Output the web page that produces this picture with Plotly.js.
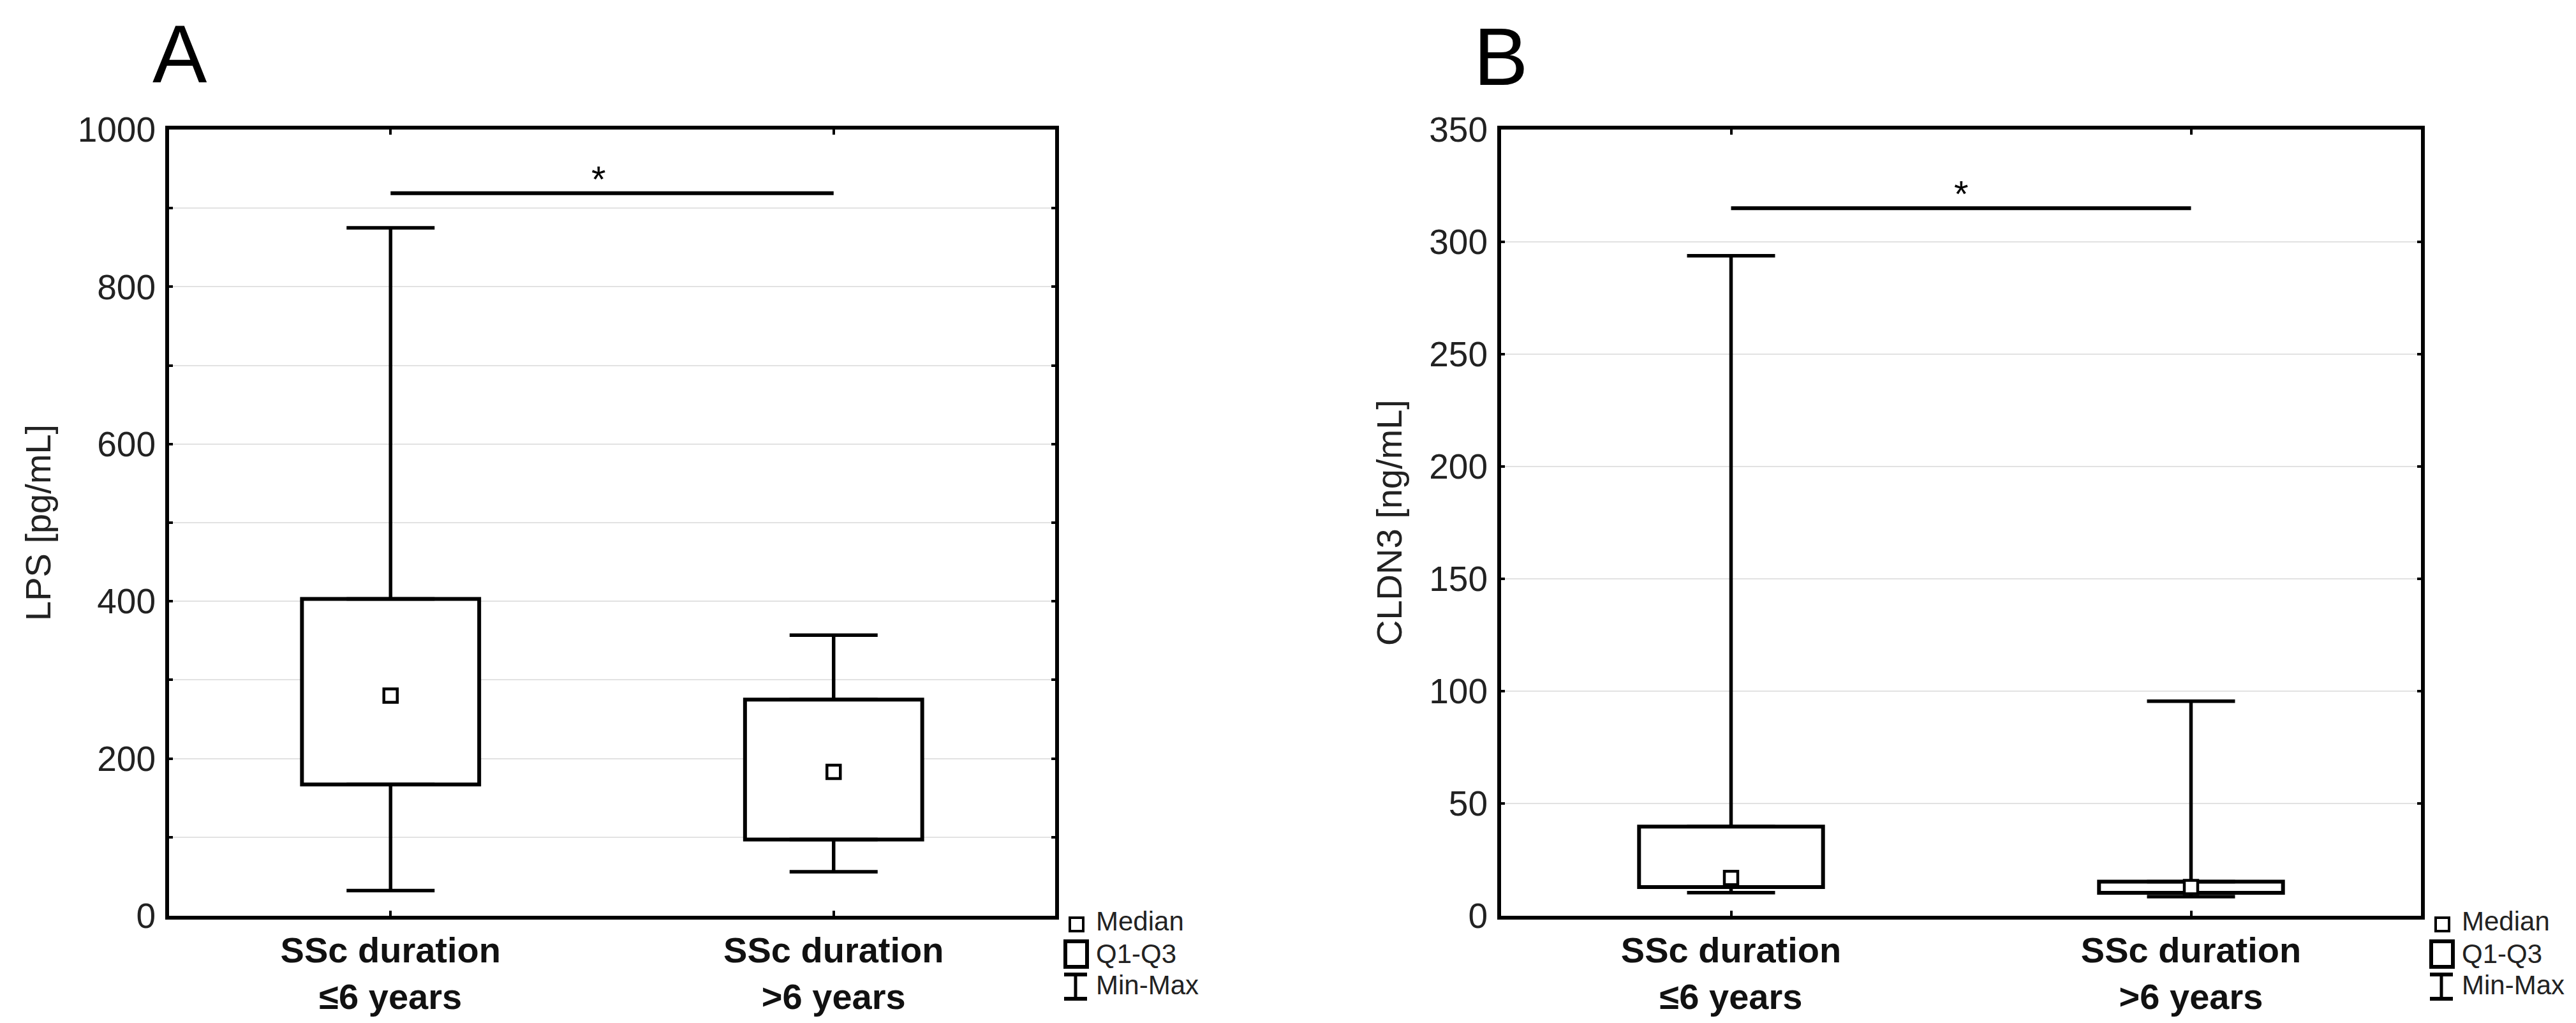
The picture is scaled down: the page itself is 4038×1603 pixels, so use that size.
<!DOCTYPE html>
<html>
<head>
<meta charset="utf-8">
<script src="https://cdn.plot.ly/plotly-3.0.1.min.js"></script>
<style>html,body{margin:0;padding:0;background:#fff;}#chart{width:4038px;height:1603px;}</style>
</head>
<body>
<div id="chart"></div>
<script>
// ---------- data ----------
const categories = ['SSc duration ≤6 years', 'SSc duration >6 years'];
const tickLabels = ['<b>SSc duration</b><br><b>≤6 years</b>', '<b>SSc duration</b><br><b>>6 years</b>'];

// Panel A: LPS [pg/mL]
const lpsMin = [32, 56];
const lpsQ1 = [167, 97];
const lpsMedian = [280, 183];
const lpsQ3 = [403, 275];
const lpsMax = [875, 357];
const lpsSig = 919;

// Panel B: CLDN3 [ng/mL]
const cldnMin = [10.3, 8.5];
const cldnQ1 = [12.8, 10.2];
const cldnMedian = [16.8, 12.8];
const cldnQ3 = [39.7, 15.2];
const cldnMax = [293.8, 95.5];
const cldnSig = 315;

const legendLabels = ['Median', 'Q1-Q3', 'Min-Max'];
const yTitles = ['LPS [pg/mL]', 'CLDN3 [ng/mL]'];
const panelLetters = ['A', 'B'];

// ---------- layout helpers ----------
const W = 4038, H = 1603;
const px = x => x / W;
const py = y => 1 - y / H;
const FONT = 'Liberation Sans, Arial, Helvetica, sans-serif';
const plotTop = 203, plotBottom = 1435;
const panels = [
  {left: 265, right: 1654},
  {left: 2353, right: 3795}
];

function panelTraces(xa, ya, mn, q1, med, q3, mx, sig) {
  const boxT = {
    type: 'bar', x: categories, y: q3.map((v, i) => v - q1[i]), base: q1,
    width: 0.4, xaxis: xa, yaxis: ya,
    marker: {color: 'white', line: {color: 'black', width: 6}},
    hoverinfo: 'skip'
  };
  const upper = {
    type: 'scatter', mode: 'markers', x: categories, y: q3, xaxis: xa, yaxis: ya,
    marker: {color: 'rgba(0,0,0,0)', size: 1},
    error_y: {type: 'data', symmetric: false, array: mx.map((v, i) => v - q3[i]),
              arrayminus: q3.map(() => 0), width: 69, thickness: 5.5, color: 'black'},
    hoverinfo: 'skip'
  };
  const lower = {
    type: 'scatter', mode: 'markers', x: categories, y: q1, xaxis: xa, yaxis: ya,
    marker: {color: 'rgba(0,0,0,0)', size: 1},
    error_y: {type: 'data', symmetric: false, array: q1.map(() => 0),
              arrayminus: q1.map((v, i) => v - mn[i]), width: 69, thickness: 5.5, color: 'black'},
    hoverinfo: 'skip'
  };
  const medT = {
    type: 'scatter', mode: 'markers', x: categories, y: med, xaxis: xa, yaxis: ya,
    marker: {symbol: 'square', size: 21, color: 'white', line: {color: 'black', width: 4.5}},
    hoverinfo: 'skip'
  };
  const sigT = {
    type: 'scatter', mode: 'lines', x: categories, y: [sig, sig], xaxis: xa, yaxis: ya,
    line: {color: 'black', width: 6}, hoverinfo: 'skip'
  };
  return [boxT, upper, lower, medT, sigT];
}

const data = [].concat(
  panelTraces('x', 'y', lpsMin, lpsQ1, lpsMedian, lpsQ3, lpsMax, lpsSig),
  panelTraces('x2', 'y2', cldnMin, cldnQ1, cldnMedian, cldnQ3, cldnMax, cldnSig)
);

function xAxis(p, anchor) {
  return {
    domain: [px(p.left), px(p.right)], anchor: anchor, type: 'category',
    range: [-0.5, 1.5], tickvals: categories, ticktext: tickLabels,
    tickfont: {family: FONT, size: 56, color: '#111'},
    showline: true, linewidth: 6, linecolor: 'black', mirror: 'ticks',
    ticks: 'inside', ticklen: 8, tickwidth: 4, tickcolor: 'black',
    showgrid: false, zeroline: false, fixedrange: true
  };
}
function yAxis(anchor, rng, dt, minorDt) {
  const ax = {
    domain: [py(plotBottom), py(plotTop)], anchor: anchor,
    range: rng, tick0: 0, dtick: dt,
    tickfont: {family: FONT, size: 55, color: '#222'},
    showline: true, linewidth: 6, linecolor: 'black', mirror: 'ticks',
    ticks: 'inside', ticklen: 6, tickwidth: 4, tickcolor: 'black',
    ticklabelstandoff: 4,
    showgrid: true, gridcolor: '#e2e2e2', gridwidth: 2, zeroline: false, fixedrange: true
  };
  if (minorDt) {
    ax.minor = {dtick: minorDt, tick0: 0, showgrid: true, gridcolor: '#e2e2e2', gridwidth: 2,
                ticks: 'inside', ticklen: 6, tickwidth: 4, tickcolor: 'black'};
  }
  return ax;
}

const annotations = [];
const shapes = [];

// panel letters
[[282, 84], [2352, 89]].forEach((pos, i) => {
  annotations.push({xref: 'paper', yref: 'paper', x: px(pos[0]), y: py(pos[1]),
    xanchor: 'center', yanchor: 'middle', showarrow: false, text: panelLetters[i],
    font: {family: FONT, size: 128, color: 'black'}});
});
// y titles
[59, 2177].forEach((xx, i) => {
  annotations.push({xref: 'paper', yref: 'paper', x: px(xx), y: py((plotTop + plotBottom) / 2),
    xanchor: 'center', yanchor: 'middle', showarrow: false, textangle: -90, text: yTitles[i],
    font: {family: FONT, size: 56, color: '#222'}});
});
// significance stars
[['x', 'y', lpsSig, 0.47], ['x2', 'y2', cldnSig, 0.5]].forEach(s => {
  annotations.push({xref: s[0], yref: s[1], x: s[3], y: s[2], xanchor: 'center', yanchor: 'bottom',
    yshift: -12, showarrow: false, text: '*', font: {family: FONT, size: 58, color: 'black'}});
});
// legends
panels.forEach(p => {
  const R = p.right;
  const textY = [1443, 1494, 1543];
  legendLabels.forEach((t, i) => {
    annotations.push({xref: 'paper', yref: 'paper', x: px(R + 62), y: py(textY[i]),
      xanchor: 'left', yanchor: 'middle', showarrow: false, text: t,
      font: {family: FONT, size: 42, color: '#222'}});
  });
  shapes.push({type: 'rect', xref: 'paper', yref: 'paper', x0: px(R + 23), x1: px(R + 44),
    y0: py(1438), y1: py(1459), line: {color: 'black', width: 4}});
  shapes.push({type: 'rect', xref: 'paper', yref: 'paper', x0: px(R + 16), x1: px(R + 50),
    y0: py(1475), y1: py(1515), line: {color: 'black', width: 6}});
  shapes.push({type: 'line', xref: 'paper', yref: 'paper', x0: px(R + 32), x1: px(R + 32),
    y0: py(1527), y1: py(1565), line: {color: 'black', width: 5}});
  shapes.push({type: 'line', xref: 'paper', yref: 'paper', x0: px(R + 14), x1: px(R + 50),
    y0: py(1527), y1: py(1527), line: {color: 'black', width: 6}});
  shapes.push({type: 'line', xref: 'paper', yref: 'paper', x0: px(R + 14), x1: px(R + 50),
    y0: py(1565), y1: py(1565), line: {color: 'black', width: 6}});
});

const layout = {
  width: W, height: H,
  margin: {l: 0, r: 0, t: 0, b: 0, pad: 0},
  paper_bgcolor: 'white', plot_bgcolor: 'white',
  showlegend: false, barmode: 'overlay',
  font: {family: FONT},
  xaxis: xAxis(panels[0], 'y'),
  yaxis: yAxis('x', [0, 1000], 200, 100),
  xaxis2: xAxis(panels[1], 'y2'),
  yaxis2: yAxis('x2', [0, 350], 50, null),
  annotations: annotations,
  shapes: shapes
};

Plotly.newPlot('chart', data, layout, {staticPlot: true, displayModeBar: false});
</script>
</body>
</html>
